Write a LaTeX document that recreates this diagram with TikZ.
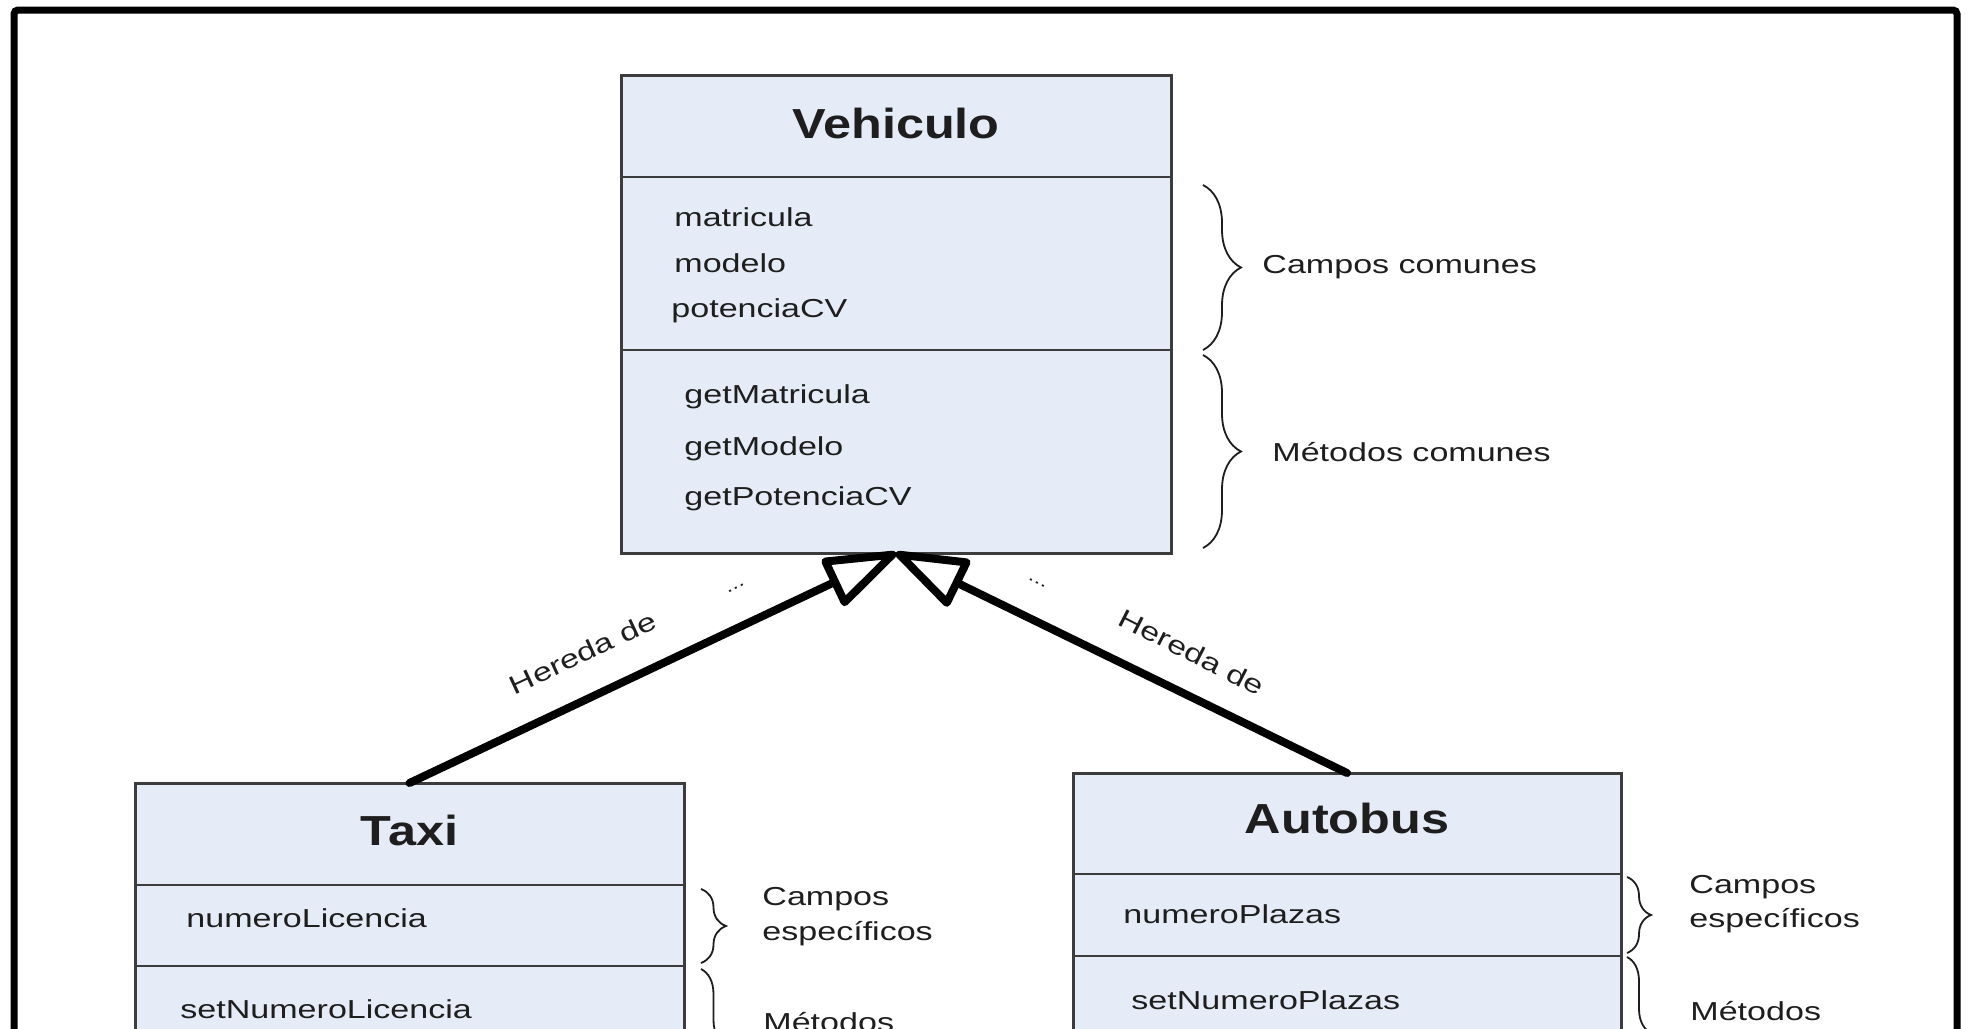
\documentclass[tikz,border=0pt]{standalone}
\usepackage{fontspec}
\setmainfont{Liberation Sans}[FakeStretch=1.31]
\newfontfamily\titlefont{Liberation Sans}[FakeStretch=1.2]
\usetikzlibrary{arrows.meta,decorations.pathreplacing}
\definecolor{boxfill}{RGB}{230,236,247}
\definecolor{boxline}{RGB}{60,60,60}
\definecolor{txt}{RGB}{30,30,30}
\begin{document}
\begin{tikzpicture}[x=0.5pt,y=-0.5pt,
  classbox/.style={draw=boxline, fill=boxfill, line width=1.5pt, inner sep=0pt, outer sep=0pt},
  divider/.style={draw=boxline, line width=1.3pt},
  member/.style={anchor=base west, inner sep=0pt, text=txt, font=\fontsize{13}{15}\selectfont},
  classtitle/.style={anchor=base, inner sep=0pt, text=txt, font=\titlefont\bfseries\fontsize{21}{24}\selectfont},
  note/.style={anchor=base west, inner sep=0pt, text=txt, font=\fontsize{13}{15}\selectfont},
  bracedeco/.style={decorate, decoration={brace, amplitude=#1}, draw=txt, line width=0.9pt},
  inherit/.style={draw=black, line width=4pt, -{Triangle[open, length=40pt, width=27pt, round]}, line cap=round, line join=round},
  rel/.style={inner sep=0pt, text=txt, font=\fontsize{13}{15}\selectfont},
  dots/.style={inner sep=0pt, text=txt, font=\fontsize{9}{10}\selectfont},
]
\fill[white] (0,0) rectangle (1969,1028);
\clip (0,0) rectangle (1969,1028);
% outer frame
\draw[line width=3.5pt, rounded corners=2pt] (14,10) rectangle (1957,1150);

% ---------- Vehiculo ----------
\node[classbox, minimum width=275pt, minimum height=239pt] (veh) at (896,314) {};
\draw[divider] (621,177) -- (1171,177);
\draw[divider] (621,350) -- (1171,350);
\node[classtitle] (vehT) at (896,138) {Vehiculo};
\node[member] (f1) at (674,226) {matricula};
\node[member] (f2) at (674,272) {modelo};
\node[member] (f3) at (671,317) {potenciaCV};
\node[member] (m1) at (684,403) {getMatricula};
\node[member] (m2) at (684,455) {getModelo};
\node[member] (m3) at (684,505) {getPotenciaCV};
\coordinate (vb1a) at (1203,185);
\coordinate (vb1b) at (1203,350);
\coordinate (vb2a) at (1203,355);
\coordinate (vb2b) at (1203,548);
\draw[bracedeco=19pt] (vb1a) -- (vb1b);
\draw[bracedeco=19pt] (vb2a) -- (vb2b);
\node[note] (camposC) at (1262,273) {Campos comunes};
\node[note] (metodosC) at (1272,461) {Métodos comunes};

% ---------- Taxi ----------
\node[classbox, minimum width=274.5pt, minimum height=183.5pt] (taxi) at (409.5,966.5) {};
\draw[divider] (135,885) -- (684,885);
\draw[divider] (135,966) -- (684,966);
\node[classtitle] (taxiT) at (409.5,845) {Taxi};
\node[member] (tf1) at (186,927) {numeroLicencia};
\node[member] (tm1) at (180,1018) {setNumeroLicencia};
\coordinate (tb1a) at (701,889);
\coordinate (tb1b) at (701,963);
\coordinate (tb2a) at (701,969);
\coordinate (tb2b) at (701,1121);
\draw[bracedeco=12.5pt] (tb1a) -- (tb1b);
\draw[bracedeco=12.5pt] (tb2a) -- (tb2b);
\node[note] (tcampos) at (762,905) {Campos};
\node[note] (tesp) at (762,940) {específicos};
\node[note] (tmet) at (763,1031) {Métodos};

% ---------- Autobus ----------
\node[classbox, minimum width=274pt, minimum height=188.5pt] (bus) at (1347,961.5) {};
\draw[divider] (1073,874) -- (1621,874);
\draw[divider] (1073,956) -- (1621,956);
\node[classtitle] (busT) at (1347,833) {Autobus};
\node[member] (bf1) at (1123,923) {numeroPlazas};
\node[member] (bm1) at (1131,1009) {setNumeroPlazas};
\coordinate (bb1a) at (1627,877);
\coordinate (bb1b) at (1627,953);
\coordinate (bb2a) at (1627,957);
\coordinate (bb2b) at (1627,1109);
\draw[bracedeco=12pt] (bb1a) -- (bb1b);
\draw[bracedeco=12pt] (bb2a) -- (bb2b);
\node[note] (bcampos) at (1689,893) {Campos};
\node[note] (besp) at (1689,927) {específicos};
\node[note] (bmet) at (1690,1020) {Métodos};

% ---------- inheritance ----------
\draw[inherit] (taxi.north) -- (veh.south);
\draw[inherit] (bus.north) -- (veh.south);
\node[rel, rotate=25] (her1) at (583,653) {Hereda de};
\node[rel, rotate=-27] (her2) at (1192,652) {Hereda de};
\node[dots, rotate=25] (d1) at (736,588) {...};
\node[dots, rotate=-25] (d2) at (1037,583) {...};
\end{tikzpicture}
\end{document}
